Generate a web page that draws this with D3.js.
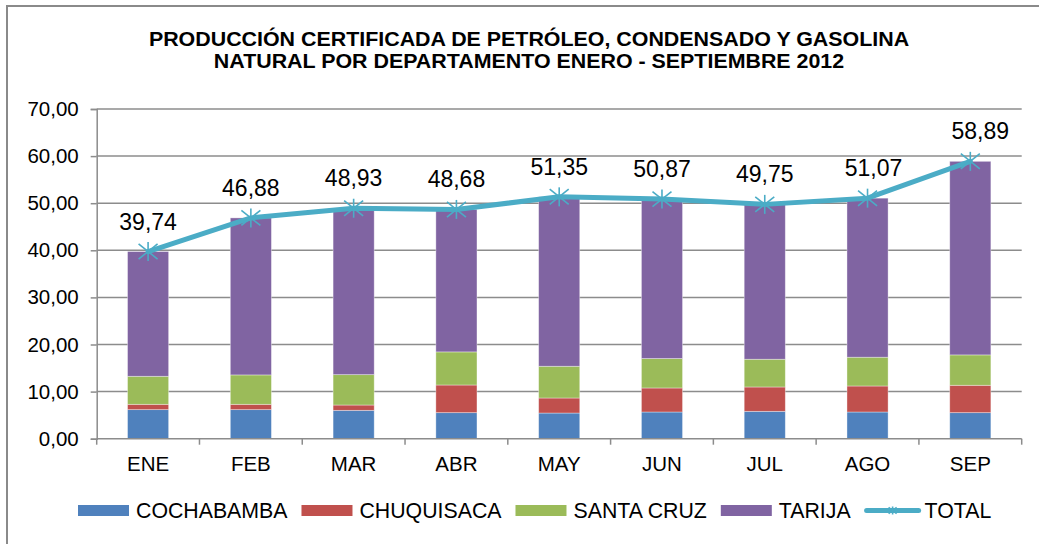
<!DOCTYPE html>
<html>
<head>
<meta charset="utf-8">
<script src="https://cdn.jsdelivr.net/npm/d3@7"></script>
<style>
  body { margin: 0; background: #fff; }
  text { font-family: "Liberation Sans", Arial, sans-serif; fill: #000; }
</style>
</head>
<body>
<div id="chart"></div>
<script>
var months = ["ENE", "FEB", "MAR", "ABR", "MAY", "JUN", "JUL", "AGO", "SEP"];
var cochabamba = [6.17, 6.17, 6.02, 5.53, 5.45, 5.67, 5.81, 5.67, 5.53];
var chuquisaca = [1.13, 1.13, 1.13, 5.87, 3.19, 5.10, 5.17, 5.52, 5.81];
var santaCruz = [5.95, 6.24, 6.45, 7.03, 6.74, 6.25, 5.89, 6.11, 6.45];
var tarija = [26.49, 33.34, 35.33, 30.25, 35.97, 33.85, 32.88, 33.77, 41.10];
var total = [39.74, 46.88, 48.93, 48.68, 51.35, 50.87, 49.75, 51.07, 58.89];
var yTicks = [0, 10, 20, 30, 40, 50, 60, 70];

var series = [
    { name: "COCHABAMBA", values: cochabamba, color: "#4F81BD" },
    { name: "CHUQUISACA", values: chuquisaca, color: "#C0504D" },
    { name: "SANTA CRUZ", values: santaCruz, color: "#9BBB59" },
    { name: "TARIJA", values: tarija, color: "#8064A2" }
];
var lineColor = "#4BACC6";

var width = 1039, height = 544;
var margin = { top: 109, right: 1039 - 1021.7, bottom: 544 - 438.7, left: 96.7 };

var locale = d3.formatLocale({ decimal: ",", thousands: ".", grouping: [3], currency: ["", ""] });
var fmt = locale.format(".2f");

var svg = d3.select("#chart").append("svg")
    .attr("width", width)
    .attr("height", height);

// chart area border (continues past the right/bottom edge)
svg.append("rect")
    .attr("x", 7).attr("y", 6)
    .attr("width", 1100).attr("height", 600)
    .attr("fill", "#fff")
    .attr("stroke", "#8a8a8a")
    .attr("stroke-width", 2);

// title is a bit stretched sideways in the original
var title = svg.append("text")
    .attr("text-anchor", "middle")
    .attr("font-weight", "bold")
    .attr("font-size", 20)
    .attr("transform", "translate(529,0) scale(1.07,1)");
title.append("tspan").attr("x", 0).attr("y", 46)
    .text("PRODUCCIÓN CERTIFICADA DE PETRÓLEO, CONDENSADO Y GASOLINA");
title.append("tspan").attr("x", 0).attr("y", 68.5)
    .text("NATURAL POR DEPARTAMENTO ENERO - SEPTIEMBRE 2012");

var x = d3.scaleBand()
    .domain(months)
    .range([margin.left, width - margin.right])
    .paddingInner(0.6)
    .paddingOuter(0.3);

var band = (width - margin.right - margin.left) / months.length;

var y = d3.scaleLinear()
    .domain([0, 70])
    .range([height - margin.bottom, margin.top]);

// gridlines
svg.append("g").selectAll("line")
    .data(yTicks.slice(1))
    .enter().append("line")
    .attr("x1", margin.left).attr("x2", width - margin.right)
    .attr("y1", function(d) { return y(d); })
    .attr("y2", function(d) { return y(d); })
    .attr("stroke", "#8c8c8c")
    .attr("stroke-width", 1.5);

// y axis
var yAxis = svg.append("g")
    .attr("transform", "translate(" + margin.left + ",0)")
    .call(d3.axisLeft(y).tickValues(yTicks).tickSize(6).tickPadding(12).tickFormat(fmt));
yAxis.select(".domain").attr("stroke", "#8c8c8c").attr("stroke-width", 1.5);
yAxis.selectAll(".tick line").attr("stroke", "#8c8c8c").attr("stroke-width", 1.5);
yAxis.selectAll(".tick text")
    .attr("font-family", "Liberation Sans, Arial, sans-serif")
    .attr("font-size", 20.5)
    .attr("fill", "#000");

// stacked bars
var rows = months.map(function(m, i) {
    var r = { month: m };
    series.forEach(function(s) { r[s.name] = s.values[i]; });
    return r;
});
var stacked = d3.stack().keys(series.map(function(s) { return s.name; }))(rows);

svg.append("g").selectAll("g")
    .data(stacked)
    .enter().append("g")
    .attr("fill", function(d, i) { return series[i].color; })
    .selectAll("rect")
    .data(function(d) { return d; })
    .enter().append("rect")
    .attr("x", function(d) { return x(d.data.month); })
    .attr("width", x.bandwidth())
    .attr("y", function(d) { return y(d[1]); })
    .attr("height", function(d) { return y(d[0]) - y(d[1]); })
    .attr("stroke", "#fff")
    .attr("stroke-opacity", 0.45)
    .attr("stroke-width", 0.8);

// x axis
var xAxisG = svg.append("g");
xAxisG.append("line")
    .attr("x1", margin.left).attr("x2", width - margin.right)
    .attr("y1", y(0)).attr("y2", y(0))
    .attr("stroke", "#8c8c8c").attr("stroke-width", 1.5);
xAxisG.selectAll(".sep")
    .data(d3.range(months.length + 1))
    .enter().append("line")
    .attr("x1", function(i) { return margin.left + i * band; })
    .attr("x2", function(i) { return margin.left + i * band; })
    .attr("y1", y(0)).attr("y2", y(0) + 6)
    .attr("stroke", "#8c8c8c").attr("stroke-width", 1.5);
xAxisG.selectAll(".lab")
    .data(months)
    .enter().append("text")
    .attr("x", function(d) { return x(d) + x.bandwidth() / 2; })
    .attr("y", 471)
    .attr("text-anchor", "middle")
    .attr("font-size", 20.5)
    .text(function(d) { return d; });

// total line
var cx = function(i) { return x(months[i]) + x.bandwidth() / 2; };
var line = d3.line()
    .x(function(d, i) { return cx(i); })
    .y(function(d) { return y(d); });

svg.append("path")
    .datum(total)
    .attr("d", line)
    .attr("fill", "none")
    .attr("stroke", lineColor)
    .attr("stroke-width", 5)
    .attr("stroke-linejoin", "round")
    .attr("stroke-linecap", "round");

function star(g, size) {
    var r = size / 2;
    g.append("line").attr("x1", -r).attr("y1", -r * 0.8).attr("x2", r).attr("y2", r * 0.8);
    g.append("line").attr("x1", -r).attr("y1", r * 0.8).attr("x2", r).attr("y2", -r * 0.8);
    g.append("line").attr("x1", 0).attr("y1", -r).attr("x2", 0).attr("y2", r);
    g.attr("stroke", lineColor).attr("stroke-width", 1.6);
}

svg.append("g").selectAll("g")
    .data(total)
    .enter().append("g")
    .attr("transform", function(d, i) { return "translate(" + cx(i) + "," + y(d) + ")"; })
    .each(function() { star(d3.select(this), 19); });

svg.append("g").selectAll("text")
    .data(total)
    .enter().append("text")
    .attr("x", function(d, i) { return cx(i) + (i == 7 ? 6 : i == 8 ? 10 : 0); })
    .attr("y", function(d) { return y(d) - 22; })
    .attr("text-anchor", "middle")
    .attr("font-size", 23)
    .text(function(d) { return fmt(d); });

// legend
var legend = svg.append("g").attr("transform", "translate(78,0)");
var lx = 0;
series.forEach(function(s) {
    legend.append("rect")
        .attr("x", lx).attr("y", 505)
        .attr("width", 51).attr("height", 11)
        .attr("fill", s.color);
    var t = legend.append("text")
        .attr("x", lx + 58).attr("y", 517.5)
        .attr("font-size", 21.3)
        .text(s.name);
    lx += 58 + t.node().getComputedTextLength() + 14;
});
legend.append("line")
    .attr("x1", lx + 2).attr("x2", lx + 54)
    .attr("y1", 510.5).attr("y2", 510.5)
    .attr("stroke", lineColor)
    .attr("stroke-width", 5)
    .attr("stroke-linecap", "round");
var lm = legend.append("g").attr("transform", "translate(" + (lx + 28) + ",510.5)");
star(lm, 8);
legend.append("text")
    .attr("x", lx + 60).attr("y", 517.5)
    .attr("font-size", 21.3)
    .text("TOTAL");
</script>
</body>
</html>
